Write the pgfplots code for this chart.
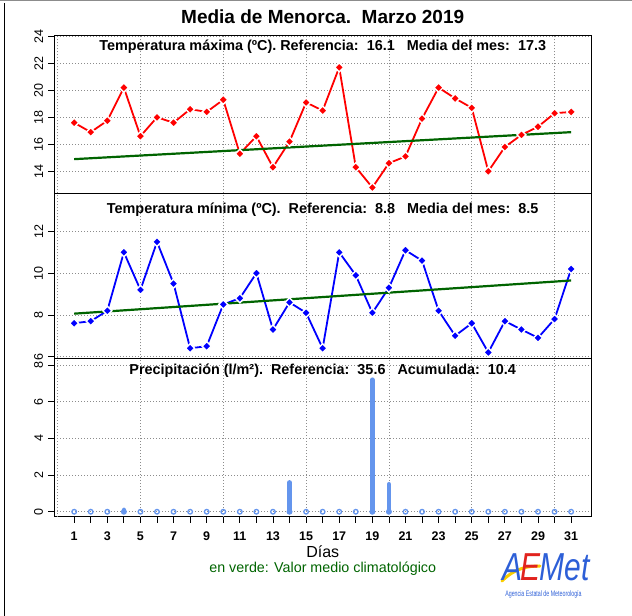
\documentclass[border=0pt]{standalone}
\usepackage{fontspec}
\setmainfont{Liberation Sans}
\usepackage{graphicx}
\usepackage{pgfplots}
\pgfplotsset{compat=1.18}
\usepackage{pgfplotstable}

\definecolor{dgreen}{RGB}{0,100,0}
\definecolor{cornflower}{RGB}{100,149,237}
\definecolor{aemblue}{RGB}{45,95,215}
\definecolor{aemred}{RGB}{225,35,30}
\definecolor{aemyellow}{RGB}{250,205,0}

\pgfplotstableread{
dia tmax tmin
1 17.6 7.6
2 16.9 7.7
3 17.75 8.2
4 20.2 11.0
5 16.6 9.2
6 18.0 11.5
7 17.6 9.5
8 18.6 6.4
9 18.4 6.5
10 19.3 8.5
11 15.3 8.8
12 16.6 10.0
13 14.3 7.3
14 16.2 8.6
15 19.1 8.1
16 18.5 6.4
17 21.7 11.0
18 14.3 9.9
19 12.8 8.1
20 14.6 9.3
21 15.1 11.1
22 17.9 10.6
23 20.2 8.2
24 19.4 7.0
25 18.7 7.6
26 14.0 6.2
27 15.8 7.7
28 16.7 7.3
29 17.3 6.9
30 18.3 7.8
31 18.4 10.2
}\datos

\pgfplotsset{panel/.style={
  scale only axis, width=536.7bp, xmin=-0.2, xmax=32.2,
  anchor=south west,
  axis line style={line width=0.9bp, black},
  every tick/.style={black, line width=0.8bp},
  major tick length=6bp, tick align=outside, tick pos=left,
  grid style={black!45, line width=0.6bp, dash pattern=on 0.8bp off 2.2bp},
  ymajorgrids,
  yticklabel style={xshift=-5bp, rotate=90, anchor=south, inner sep=0pt,
    font=\fontsize{12.5bp}{12.5bp}\selectfont},
  /pgf/number format/assume math mode=true,
  clip=false,
}}

\begin{document}
\begin{tikzpicture}[x=1bp,y=1bp]
\path[use as bounding box] (0,0) rectangle (632,616);
\draw[black!45, line width=1bp] (0,615.5) -- (632,615.5);
\draw[black, line width=1bp] (4.3,0) -- (4.3,613);

% ---------- top panel: Tmax
\begin{axis}[panel, at={(54.3bp,422.7bp)}, height=158.3bp,
  ymin=12.37, ymax=24.1, ytick={14,16,...,24},
  xtick={0,5,...,30}, xticklabels={}, xmajorgrids, xtick style={draw=none}]
\addplot[red, line width=1.8bp, mark=square*, mark size=3.2bp,
  mark options={fill=red, draw=white, line width=1.4bp, solid, rotate=45}]
  table[x=dia, y=tmax]{\datos};
\addplot[dgreen, line width=2.2bp] coordinates {(1,14.9) (31,16.9)};
\end{axis}

% ---------- middle panel: Tmin
\begin{axis}[panel, at={(54.3bp,257.7bp)}, height=165bp,
  ymin=5.92, ymax=13.83, ytick={6,8,10,12},
  xtick={0,5,...,30}, xticklabels={}, xmajorgrids, xtick style={draw=none}]
\addplot[blue, line width=1.8bp, mark=square*, mark size=3.2bp,
  mark options={fill=blue, draw=white, line width=1.4bp, solid, rotate=45}]
  table[x=dia, y=tmin]{\datos};
\addplot[dgreen, line width=2.2bp] coordinates {(1,8.06) (31,9.65)};
\end{axis}

% ---------- bottom panel: precipitation
\begin{axis}[panel, at={(54.3bp,99.3bp)}, height=158.4bp,
  ymin=-0.27, ymax=8.37, ytick={0,2,...,8},
  xtick={1,...,31},
  xticklabels={1,,3,,5,,7,,9,,11,,13,,15,,17,,19,,21,,23,,25,,27,,29,,31},
  xticklabel style={inner sep=0pt, anchor=north, yshift=-9bp,
    font=\bfseries\fontsize{12.5bp}{12.5bp}\selectfont},
  extra x ticks={0,5,...,30}, extra x tick labels={},
  extra x tick style={grid=major, major tick length=0pt}]
\addplot[ycomb, cornflower, line width=4.6bp, line cap=round]
  coordinates {(4,0.1) (14,1.6) (19,7.2) (20,1.5)};
\addplot[only marks, cornflower, mark=o, mark size=2.3bp,
  mark options={line width=1.3bp}]
  coordinates {(1,0) (2,0) (3,0) (4,0) (5,0) (6,0) (7,0) (8,0) (9,0) (10,0)
  (11,0) (12,0) (13,0) (14,0) (15,0) (16,0) (17,0) (18,0) (19,0) (20,0)
  (21,0) (22,0) (23,0) (24,0) (25,0) (26,0) (27,0) (28,0) (29,0) (30,0) (31,0)};
\end{axis}

% ---------- texts
\node[font=\bfseries\fontsize{19bp}{19bp}\selectfont] at (322.7,599) {Media de Menorca.\ \ Marzo 2019};
\node[font=\bfseries\fontsize{14.4bp}{14.4bp}\selectfont] at (322.7,569.3)
  {Temperatura máxima (ºC). Referencia:\ \ 16.1\ \ \ Media del mes:\ \ 17.3};
\node[font=\bfseries\fontsize{14.4bp}{14.4bp}\selectfont] at (322.7,406.7)
  {Temperatura mínima (ºC).\ \ Referencia:\ \ 8.8\ \ \ Media del mes:\ \ 8.5};
\node[font=\bfseries\fontsize{14.4bp}{14.4bp}\selectfont] at (322.7,245.3)
  {Precipitación (l/m²).\ \ Referencia:\ \ 35.6\ \ \ Acumulada:\ \ 10.4};
\node[inner sep=0pt, font=\fontsize{16bp}{16bp}\selectfont] at (322.7,64) {Días};
\node[inner sep=0pt, font=\fontsize{14.3bp}{14.3bp}\selectfont, text=dgreen] at (322.7,47.5) {en verde: Valor medio climatológico};

% ---------- logo
\draw[aemyellow, line width=3bp, line cap=round] (502,35) .. controls (515,48) and (528,50) .. (540,50);
\node[inner sep=0pt] at (546,49) {\scalebox{1}[1.3]{\fontsize{30bp}{30bp}\selectfont\itshape
  \textcolor{aemblue}{A}\kern-2bp\textcolor{aemred}{E}\kern-1bp\textcolor{aemblue}{Met}}};
\node[inner sep=0pt, text=aemblue] at (543.5,22) {\scalebox{0.66}[1]{\fontsize{8bp}{8bp}\selectfont Agencia Estatal de Meteorología}};
\end{tikzpicture}
\end{document}
